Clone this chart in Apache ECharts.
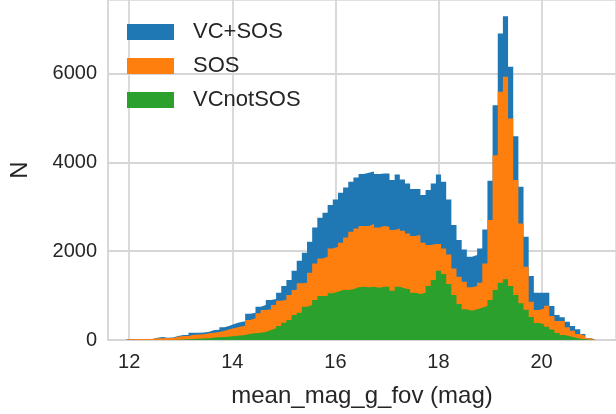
<!DOCTYPE html>
<html>
<head>
<meta charset="utf-8">
<script src="https://cdn.jsdelivr.net/npm/echarts@6/dist/echarts.min.js"></script>
<style>
html, body { margin: 0; padding: 0; background: #fff; }
#chart { width: 616px; height: 414px; }
</style>
</head>
<body>
<div id="chart"></div>
<script>
// histogram bins (mag)
var binStart = 11.95;
var binWidth = 0.1;

// counts per bin
var vcSos = [15, 20, 20, 20, 22, 52, 67, 52, 55, 90,
    112, 115, 165, 165, 170, 187, 225, 230, 285, 322,
    367, 397, 420, 590, 615, 750, 787, 900, 922, 1065,
    1215, 1350, 1560, 1785, 1965, 2212, 2535, 2752, 2865, 3037,
    3165, 3315, 3435, 3562, 3660, 3735, 3765, 3795, 3735, 3750,
    3750, 3600, 3727, 3615, 3525, 3397, 3397, 3262, 3375, 3525,
    3727, 3562, 3165, 2587, 2250, 2040, 1875, 1912, 2062, 2490,
    3585, 5287, 6900, 7290, 6150, 4590, 3450, 2325, 1440, 1065,
    1065, 1065, 765, 562, 510, 412, 315, 240, 135, 40, 12];
var sos = [15, 20, 20, 20, 20, 40, 40, 45, 45, 75,
    90, 90, 120, 125, 130, 150, 165, 180, 210, 240,
    270, 300, 320, 450, 487, 600, 675, 690, 787, 885,
    907, 1012, 1125, 1275, 1290, 1515, 1725, 1837, 1875, 2062,
    2100, 2190, 2310, 2437, 2512, 2565, 2565, 2610, 2535, 2565,
    2550, 2475, 2512, 2460, 2400, 2340, 2362, 2190, 2137, 2160,
    2160, 2062, 1927, 1612, 1425, 1312, 1185, 1215, 1290, 1725,
    2700, 4162, 5587, 5925, 4987, 3600, 2625, 1650, 862, 675,
    712, 772, 540, 427, 427, 285, 210, 135, 90, 37, 12];
var vcNotSos = [0, 0, 0, 0, 0, 0, 0, 0, 0, 8,
    12, 18, 25, 30, 35, 40, 55, 60, 70, 78,
    90, 100, 112, 140, 150, 165, 180, 225, 262, 315,
    390, 450, 562, 615, 750, 787, 900, 990, 990, 1050,
    1087, 1125, 1125, 1140, 1185, 1200, 1185, 1200, 1177, 1200,
    1200, 1110, 1200, 1162, 1140, 1065, 1035, 1065, 1215, 1350,
    1560, 1485, 1260, 1012, 810, 690, 660, 690, 727, 765,
    900, 1125, 1290, 1365, 1215, 1012, 825, 680, 520, 385,
    355, 300, 235, 160, 110, 85, 55, 30, 15, 5, 0];

var xTicks = [12, 14, 16, 18, 20];
var yTicks = [0, 2000, 4000, 6000];

var gridColor = '#d6d6d6';
var textColor = '#262626';
var font = 'Liberation Sans';

// step outline: each bin holds its count until the next edge
function steps(counts) {
    var pts = [];
    for (var i = 0; i < counts.length; i++) {
        pts.push([binStart + i * binWidth, counts[i]]);
    }
    pts.push([binStart + counts.length * binWidth, counts[counts.length - 1]]);
    return pts;
}

function histSeries(name, color, counts) {
    return {
        name: name,
        type: 'line',
        step: 'end',
        data: steps(counts),
        symbol: 'none',
        color: color,
        itemStyle: { color: color },
        lineStyle: { width: 0 },
        areaStyle: { color: color, opacity: 1 },
        silent: true
    };
}

var myChart = echarts.init(document.getElementById('chart'));
var option = {
    animation: false,
    backgroundColor: '#fff',
    grid: {
        left: 107, top: 0, width: 511, height: 340,
        show: true, borderColor: gridColor, borderWidth: 1.5,
        containLabel: false
    },
    legend: {
        orient: 'vertical',
        left: 127, top: 21,
        padding: 0,
        itemWidth: 47, itemHeight: 16, itemGap: 12,
        data: [
            { name: 'VC+SOS', icon: 'rect' },
            { name: 'SOS', icon: 'rect' },
            { name: 'VCnotSOS', icon: 'rect' }
        ],
        textStyle: {
            fontFamily: font, fontSize: 22, color: textColor,
            padding: [0, 0, 0, 14]
        }
    },
    xAxis: {
        type: 'value',
        min: 11.589, max: 21.444,
        name: 'mean_mag_g_fov (mag)',
        nameLocation: 'middle', nameGap: 44,
        nameTextStyle: { fontFamily: font, fontSize: 24, color: textColor },
        axisLine: { show: true, lineStyle: { color: gridColor, width: 1.5 } },
        axisTick: { show: false, customValues: xTicks },
        axisLabel: {
            customValues: xTicks, margin: 12,
            fontFamily: font, fontSize: 20, color: textColor,
            formatter: function (v) { return String(v); }
        },
        splitLine: { show: true, lineStyle: { color: gridColor, width: 1.8 } }
    },
    yAxis: {
        type: 'value',
        min: 0, max: 7655,
        name: 'N',
        nameLocation: 'middle', nameGap: 76,
        nameTextStyle: { fontFamily: font, fontSize: 24, color: textColor },
        axisLine: { show: true, lineStyle: { color: gridColor, width: 1.5 } },
        axisTick: { show: false, customValues: yTicks },
        axisLabel: {
            customValues: yTicks, margin: 11,
            fontFamily: font, fontSize: 20, color: textColor,
            formatter: function (v) { return String(v); }
        },
        splitLine: { show: true, lineStyle: { color: gridColor, width: 1.8 } }
    },
    series: [
        histSeries('VC+SOS', '#1f77b4', vcSos),
        histSeries('SOS', '#ff7f0e', sos),
        histSeries('VCnotSOS', '#2ca02c', vcNotSos)
    ]
};
myChart.setOption(option);
</script>
</body>
</html>
